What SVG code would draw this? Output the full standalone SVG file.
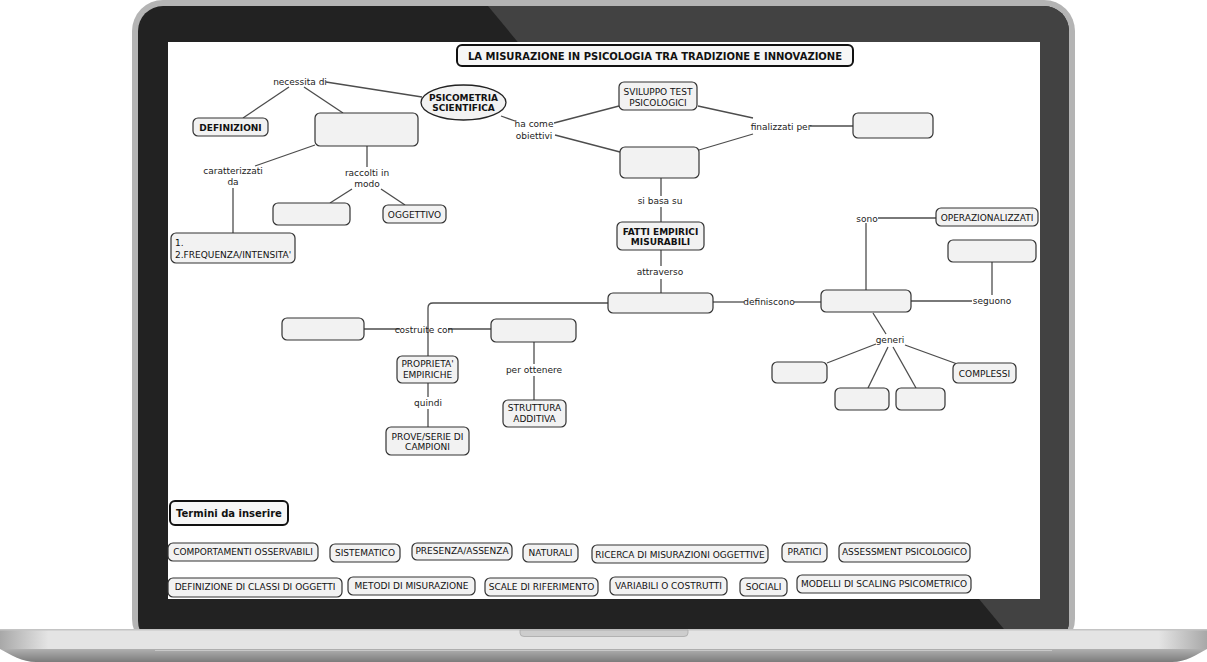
<svg xmlns="http://www.w3.org/2000/svg" width="1207" height="662" viewBox="0 0 1207 662">
<defs>
<style>
.n rect,.n ellipse{fill:#f2f2f2;stroke:#333;stroke-width:1.2}
.n.k rect{stroke:#111;stroke-width:2;fill:#f6f6f6}
.t{font-family:"DejaVu Sans",Verdana,sans-serif;font-size:9px;fill:#111;text-anchor:middle}
.b{font-weight:bold}
.l{font-family:"DejaVu Sans",Verdana,sans-serif;font-size:9px;fill:#222;text-anchor:middle}
#connectors line,#connectors path{stroke:#4d4d4d;stroke-width:1.3;fill:none}
</style>
<clipPath id="bez"><rect x="138" y="6" width="931" height="640" rx="25"/></clipPath>
<linearGradient id="baseTop" x1="0" y1="0" x2="1" y2="0">
<stop offset="0" stop-color="#a8a8a8"/><stop offset="0.04" stop-color="#e4e4e4"/><stop offset="0.96" stop-color="#e4e4e4"/><stop offset="1" stop-color="#a8a8a8"/>
</linearGradient>
<linearGradient id="baseBot" x1="0" y1="0" x2="0" y2="1">
<stop offset="0" stop-color="#b0b0b0"/><stop offset="1" stop-color="#7c7c7c"/>
</linearGradient>
</defs>
<rect width="1207" height="662" fill="#fff"/>
<g id="laptop">
<rect x="132" y="0" width="943" height="650" rx="31" fill="#b4b4b4"/>
<rect x="138" y="6" width="931" height="640" rx="25" fill="#222"/>
<polygon points="488,6 1069,6 1069,640 1013,640" fill="#424242" clip-path="url(#bez)"/>
<rect x="168" y="42" width="872" height="557" fill="#fff"/>
<path d="M0,629 H1207 V649 H0 Z" fill="url(#baseTop)"/>
<rect x="0" y="629" width="1207" height="1.5" fill="#c4c4c4"/>
<path d="M0,649 H1207 C1196,655 1186,662 1172,662 H36 C22,662 11,655 0,649 Z" fill="url(#baseBot)"/>
<rect x="155" y="650" width="897" height="1" fill="#c8c8c8"/>
<path d="M520,630 H688 V633 Q688,636.5 684,636.5 H524 Q520,636.5 520,633 Z" fill="#cdcdcd" stroke="#a8a8a8" stroke-width="0.8"/>
</g>
<g id="connectors">
<line x1="326" y1="82" x2="422" y2="97"/>
<line x1="289" y1="87" x2="243" y2="118"/>
<line x1="304" y1="87" x2="343" y2="113"/>
<line x1="315" y1="145" x2="255" y2="166"/>
<line x1="233" y1="188" x2="233" y2="233"/>
<line x1="367" y1="146" x2="367" y2="167"/>
<line x1="352" y1="189" x2="330" y2="203"/>
<line x1="381" y1="189" x2="405" y2="205"/>
<line x1="501" y1="116" x2="515" y2="121"/>
<line x1="554" y1="123" x2="619" y2="106"/>
<line x1="555" y1="135" x2="620" y2="152"/>
<line x1="698" y1="106" x2="753" y2="118"/>
<line x1="810" y1="126" x2="853" y2="126"/>
<line x1="753" y1="134" x2="699" y2="150"/>
<line x1="661" y1="178" x2="661" y2="196"/>
<line x1="661" y1="207" x2="661" y2="222"/>
<line x1="661" y1="250" x2="661" y2="266"/>
<line x1="661" y1="279" x2="661" y2="293"/>
<path d="M608,303 H433 Q428,303 428,308 V356"/>
<line x1="364" y1="329" x2="400" y2="329"/>
<line x1="448" y1="329" x2="491" y2="329"/>
<line x1="534" y1="342" x2="534" y2="364"/>
<line x1="534" y1="376" x2="534" y2="400"/>
<line x1="428" y1="383" x2="428" y2="397"/>
<line x1="428" y1="409" x2="428" y2="427"/>
<line x1="713" y1="302" x2="744" y2="302"/>
<line x1="794" y1="302" x2="821" y2="302"/>
<line x1="878" y1="218" x2="936" y2="218"/>
<line x1="866" y1="223" x2="866" y2="290"/>
<line x1="911" y1="301" x2="972" y2="301"/>
<line x1="992" y1="262" x2="992" y2="295"/>
<line x1="873" y1="313" x2="886" y2="334"/>
<line x1="876" y1="344" x2="827" y2="363"/>
<line x1="888" y1="347" x2="868" y2="388"/>
<line x1="893" y1="347" x2="916" y2="388"/>
<line x1="905" y1="345" x2="960" y2="365"/>
</g>
<g id="labels">
<text class="l" x="300" y="85">necessita di</text>
<text class="l" x="233" y="174">caratterizzati</text>
<text class="l" x="233" y="185">da</text>
<text class="l" x="367" y="176">raccolti in</text>
<text class="l" x="367" y="186.5">modo</text>
<text class="l" x="534" y="127">ha come</text>
<text class="l" x="534" y="138.5">obiettivi</text>
<text class="l" x="781" y="130">finalizzati per</text>
<text class="l" x="660" y="204">si basa su</text>
<text class="l" x="660" y="275">attraverso</text>
<text class="l" x="867" y="221.5">sono</text>
<text class="l" x="992" y="303.5">seguono</text>
<text class="l" x="769" y="305">definiscono</text>
<text class="l" x="890" y="343">generi</text>
<text class="l" x="424" y="333">costruite con</text>
<text class="l" x="534" y="373">per ottenere</text>
<text class="l" x="428" y="406">quindi</text>
</g>
<g id="title" class="n k"><rect x="457" y="45" width="396" height="21" rx="5"/><text class="t b" x="655" y="59.5" style="font-size:10px">LA MISURAZIONE IN PSICOLOGIA TRA TRADIZIONE E INNOVAZIONE</text></g>
<g id="psicometria" class="n"><ellipse cx="463.5" cy="102.5" rx="42.5" ry="17.5" style="stroke:#222;stroke-width:1.3"/><text class="t b" x="463.5" y="100.5">PSICOMETRIA</text><text class="t b" x="463.5" y="111">SCIENTIFICA</text></g>
<g id="definizioni" class="n"><rect x="193" y="118" width="75" height="18" rx="5"/><text class="t b" x="230.5" y="130.5">DEFINIZIONI</text></g>
<g id="box1" class="n"><rect x="315" y="113" width="103" height="33" rx="5"/></g>
<g id="frequenza" class="n"><rect x="171" y="233" width="124" height="30" rx="5"/><text class="t" x="175" y="246" style="text-anchor:start">1.</text><text class="t" x="175" y="257.5" style="text-anchor:start">2.FREQUENZA/INTENSITA'</text></g>
<g id="box2" class="n"><rect x="273" y="203" width="77" height="22" rx="5"/></g>
<g id="oggettivo" class="n"><rect x="383" y="205" width="63" height="18" rx="5"/><text class="t" x="414.5" y="217.5">OGGETTIVO</text></g>
<g id="sviluppo" class="n"><rect x="619" y="82" width="78" height="28" rx="5"/><text class="t" x="658" y="95">SVILUPPO TEST</text><text class="t" x="658" y="105.5">PSICOLOGICI</text></g>
<g id="box3" class="n"><rect x="620" y="147" width="79" height="31" rx="5"/></g>
<g id="box4" class="n"><rect x="853" y="113" width="80" height="25" rx="5"/></g>
<g id="fatti" class="n"><rect x="617" y="222" width="87" height="28" rx="5"/><text class="t b" x="660.5" y="234.5">FATTI EMPIRICI</text><text class="t b" x="660.5" y="245">MISURABILI</text></g>
<g id="box7" class="n"><rect x="608" y="293" width="105" height="20" rx="5"/></g>
<g id="box5" class="n"><rect x="821" y="290" width="90" height="22" rx="5"/></g>
<g id="operaz" class="n"><rect x="936" y="208" width="102" height="18" rx="5"/><text class="t" x="987" y="220.5">OPERAZIONALIZZATI</text></g>
<g id="box6" class="n"><rect x="948" y="240" width="88" height="22" rx="5"/></g>
<g id="box8" class="n"><rect x="772" y="362" width="55" height="21" rx="5"/></g>
<g id="box9" class="n"><rect x="835" y="388" width="54" height="22" rx="5"/></g>
<g id="box10" class="n"><rect x="896" y="388" width="49" height="22" rx="5"/></g>
<g id="complessi" class="n"><rect x="953" y="363" width="63" height="20" rx="5"/><text class="t" x="984.5" y="376.5">COMPLESSI</text></g>
<g id="box11" class="n"><rect x="282" y="318" width="82" height="22" rx="5"/></g>
<g id="box12" class="n"><rect x="491" y="319" width="85" height="23" rx="5"/></g>
<g id="proprieta" class="n"><rect x="397" y="356" width="61" height="27" rx="5"/><text class="t" x="427.5" y="366.5">PROPRIETA'</text><text class="t" x="427.5" y="378">EMPIRICHE</text></g>
<g id="struttura" class="n"><rect x="503" y="400" width="63" height="27" rx="5"/><text class="t" x="534.5" y="411">STRUTTURA</text><text class="t" x="534.5" y="422">ADDITIVA</text></g>
<g id="prove" class="n"><rect x="386" y="427" width="83" height="28" rx="5"/><text class="t" x="427.5" y="439.5">PROVE/SERIE DI</text><text class="t" x="427.5" y="449.5">CAMPIONI</text></g>
<g id="termini" class="n k"><rect x="170" y="501" width="118" height="24" rx="5"/><text class="t b" x="229" y="516.5" style="font-size:10px">Termini da inserire</text></g>
<g id="t1" class="n"><rect x="168" y="543" width="150" height="18" rx="5"/><text class="t" x="243" y="555">COMPORTAMENTI OSSERVABILI</text></g>
<g id="t2" class="n"><rect x="330" y="544" width="70" height="18" rx="5"/><text class="t" x="365" y="556">SISTEMATICO</text></g>
<g id="t3" class="n"><rect x="412" y="543" width="100" height="17" rx="5"/><text class="t" x="462" y="554">PRESENZA/ASSENZA</text></g>
<g id="t4" class="n"><rect x="523" y="544" width="55" height="18" rx="5"/><text class="t" x="550.5" y="556">NATURALI</text></g>
<g id="t5" class="n"><rect x="592" y="545" width="176" height="18" rx="5"/><text class="t" x="680" y="557.5">RICERCA DI MISURAZIONI OGGETTIVE</text></g>
<g id="t6" class="n"><rect x="782" y="543" width="45" height="19" rx="5"/><text class="t" x="804.5" y="555">PRATICI</text></g>
<g id="t7" class="n"><rect x="839" y="543" width="131" height="19" rx="5"/><text class="t" x="904.5" y="555">ASSESSMENT PSICOLOGICO</text></g>
<g id="t8" class="n"><rect x="168" y="578" width="174" height="19" rx="5"/><text class="t" x="255" y="590">DEFINIZIONE DI CLASSI DI OGGETTI</text></g>
<g id="t9" class="n"><rect x="348" y="577" width="127" height="18" rx="5"/><text class="t" x="411.5" y="588.5">METODI DI MISURAZIONE</text></g>
<g id="t10" class="n"><rect x="485" y="578" width="113" height="18" rx="5"/><text class="t" x="541.5" y="590">SCALE DI RIFERIMENTO</text></g>
<g id="t11" class="n"><rect x="610" y="577" width="117" height="18" rx="5"/><text class="t" x="668.5" y="588.5">VARIABILI O COSTRUTTI</text></g>
<g id="t12" class="n"><rect x="740" y="578" width="47" height="18" rx="5"/><text class="t" x="763.5" y="589.5">SOCIALI</text></g>
<g id="t13" class="n"><rect x="797" y="575" width="174" height="18" rx="5"/><text class="t" x="884" y="587">MODELLI DI SCALING PSICOMETRICO</text></g>
</svg>
